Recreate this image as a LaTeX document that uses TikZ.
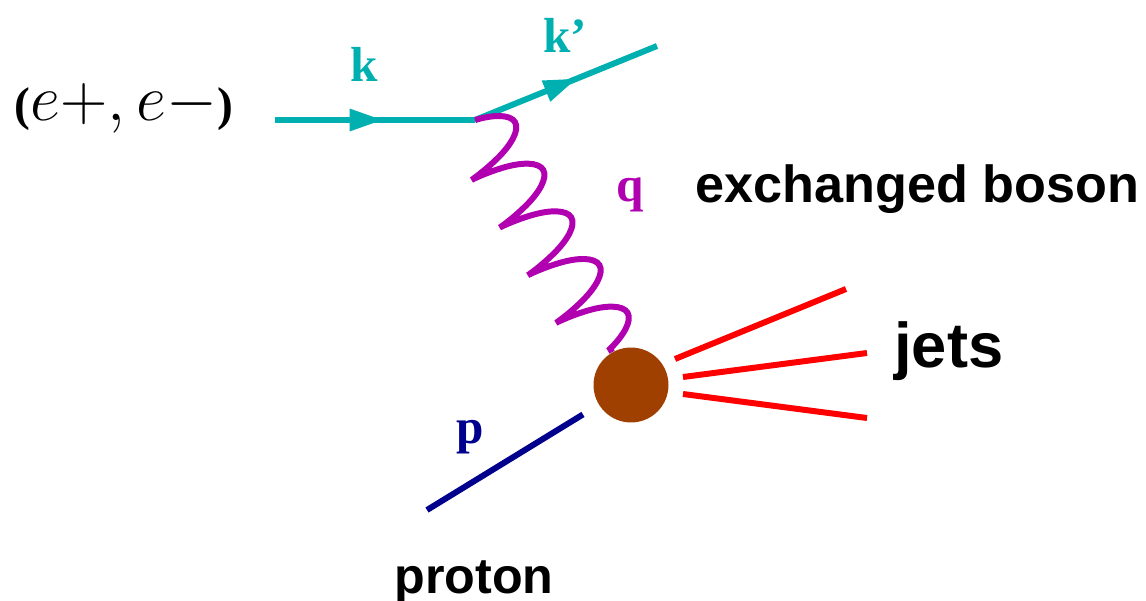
\documentclass[tikz,border=0pt]{standalone}
\usepackage{amsmath}
\usepackage{graphicx}
\usepackage{fontspec}
\setmainfont{Liberation Serif}
\setsansfont{Liberation Sans}
\usepackage{tikz}
\usetikzlibrary{arrows.meta, positioning, decorations.pathmorphing, decorations.markings}

\definecolor{leptoncol}{RGB}{0,176,176}
\definecolor{bosoncol}{RGB}{176,0,176}
\definecolor{blobcol}{RGB}{160,64,0}
\definecolor{protoncol}{RGB}{0,0,140}

\begin{document}
\begin{tikzpicture}[x=0.02cm, y=-0.02cm,
    leg/.style={line width=3.4pt},
    midarrow/.style={postaction={decorate, decoration={markings,
        mark=at position #1 with {\arrow{Triangle[length=19pt, width=12pt]}}}}},
    momlabel/.style={inner sep=0pt, font=\fontsize{28}{30}\selectfont\bfseries},
    textlabel/.style={inner sep=0pt, anchor=base west, font=\sffamily\bfseries}]
    \useasboundingbox (0,0) rectangle (1146,601);
    % Lepton line in and out
    \coordinate (ein) at (275,120);
    \coordinate (vtx) at (475,120);
    \coordinate (eout) at (657,46);
    \draw[leg, leptoncol, midarrow=0.54] (ein) -- (vtx);
    \draw[leg, leptoncol, midarrow=0.56] (vtx) -- (eout);
    \node[momlabel, leptoncol] (k) at (364,64) {k};
    \node[momlabel, leptoncol] (kp) at (565,35) {k’};
    \node[inner sep=0pt] (beam) at (124,108)
      {\scalebox{1.5}{\Huge$\text{\fontsize{18}{20}\selectfont\bfseries (}e{+},e{-}\text{\fontsize{18}{20}\selectfont\bfseries )}$}};
    % Hadron blob
    \node[circle, fill=blobcol, inner sep=0pt, minimum size=1.5cm] (blob) at (631,385) {};
    % Exchanged boson (wavy)
    \draw[leg, bosoncol, decorate, decoration={coil, aspect=0.25, amplitude=19pt, segment length=31.5pt}] (vtx) -- (blob.120);
    \node[momlabel, bosoncol] (q) at (630,195) {q};
    \node[textlabel, font=\sffamily\bfseries\fontsize{29.7}{32}\selectfont] (exch) at (695,203) {exchanged boson};
    % Proton
    \coordinate (pin) at (427,510);
    \draw[leg, protoncol, shorten >=0.37cm] (pin) -- (blob);
    \node[momlabel, protoncol] (p) at (470,437) {p};
    \node[textlabel, font=\sffamily\bfseries\fontsize{28.6}{31}\selectfont] (prot) at (394,593) {proton};
    % Jets
    \coordinate (j1a) at (675,359); \coordinate (j1b) at (846,289);
    \coordinate (j2a) at (683,377); \coordinate (j2b) at (867,353);
    \coordinate (j3a) at (683,394); \coordinate (j3b) at (867,418);
    \draw[leg, red] (j1a) -- (j1b);
    \draw[leg, red] (j2a) -- (j2b);
    \draw[leg, red] (j3a) -- (j3b);
    \node[textlabel, font=\sffamily\bfseries\fontsize{36}{40}\selectfont] (jets) at (894,367) {jets};
\end{tikzpicture}
\end{document}
